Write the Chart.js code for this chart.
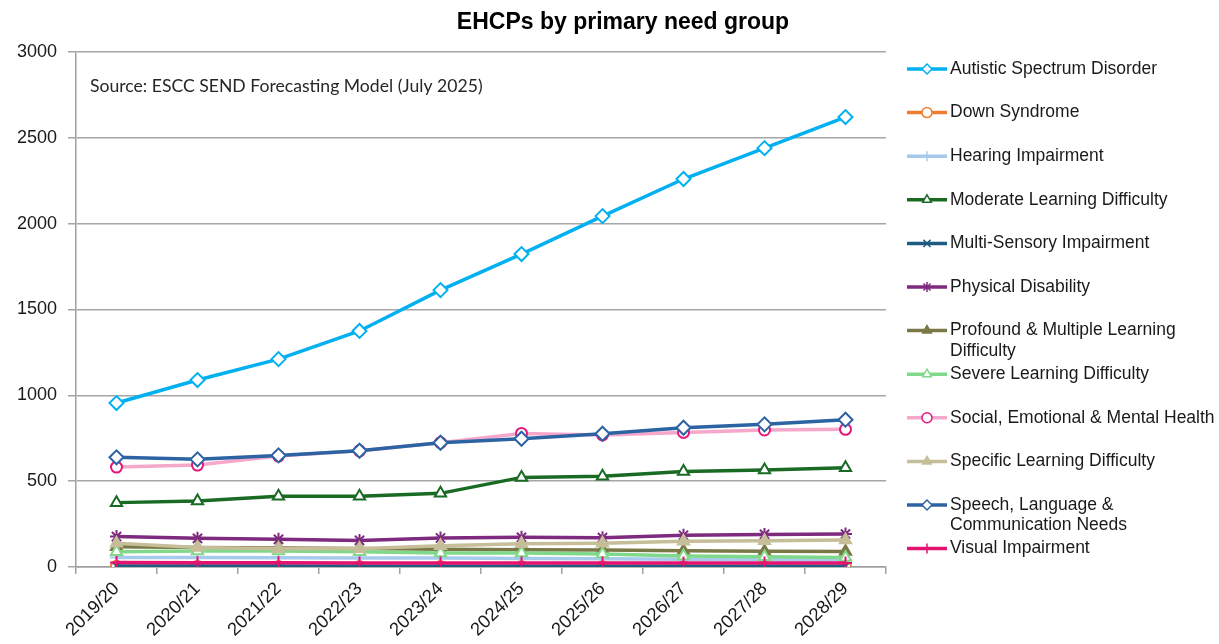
<!DOCTYPE html>
<html>
<head>
<meta charset="utf-8">
<title>EHCPs by primary need group</title>
<script src="https://cdn.jsdelivr.net/npm/chart.js@4"></script>
<style>
  html, body { margin: 0; padding: 0; background: #fff; }
  #wrap { width: 1219px; height: 644px; position: relative; }
</style>
</head>
<body>
<div id="wrap"><canvas id="ehcpChart"></canvas></div>
<script>
const chartTitle = "EHCPs by primary need group";
const sourceNote = "Source: ESCC SEND Forecasting Model (July 2025)";

const years = ["2019/20", "2020/21", "2021/22", "2022/23", "2023/24", "2024/25", "2025/26", "2026/27", "2027/28", "2028/29"];
const yTicks = [0, 500, 1000, 1500, 2000, 2500, 3000];

const autistic = [955, 1089, 1211, 1375, 1613, 1823, 2044, 2260, 2440, 2621];
const downSyndrome = [4, 4, 3, 3, 3, 3, 3, 3, 3, 3];
const hearing = [55, 55, 54, 53, 52, 50, 48, 45, 43, 41];
const moderateLD = [375, 384, 412, 412, 429, 522, 528, 557, 565, 578];
const multiSensory = [6, 6, 6, 5, 5, 5, 5, 5, 5, 5];
const physical = [177, 167, 161, 155, 169, 173, 171, 185, 190, 192];
const profoundLD = [118, 114, 110, 108, 104, 100, 99, 95, 92, 90];
const severeLD = [89, 93, 93, 89, 82, 82, 76, 64, 60, 56];
const semh = [582, 594, 646, 677, 724, 778, 769, 784, 798, 802];
const specificLD = [138, 113, 107, 107, 124, 136, 138, 150, 153, 157];
const slcn = [639, 627, 650, 677, 724, 747, 776, 811, 831, 858];
const visual = [26, 25, 25, 24, 24, 24, 23, 23, 23, 23];

// one entry per need group: legend text lines, values, look
const series = [
  { lines: ["Autistic Spectrum Disorder"], data: autistic, line: "#00B0F0", mark: "#00B0F0", fill: "#fff", style: "rectRot", r: 7 },
  { lines: ["Down Syndrome"], data: downSyndrome, line: "#ED7D31", mark: "#ED7D31", fill: "#fff", style: "circle", r: 5.5 },
  { lines: ["Hearing Impairment"], data: hearing, line: "#A6CAEC", mark: "#A6CAEC", fill: "#A6CAEC", style: "cross", r: 6.5 },
  { lines: ["Moderate Learning Difficulty"], data: moderateLD, line: "#196B24", mark: "#196B24", fill: "#fff", style: "triangle", r: 6.5 },
  { lines: ["Multi-Sensory Impairment"], data: multiSensory, line: "#1F5C82", mark: "#1F5C82", fill: "#1F5C82", style: "crossRot", r: 5.5 },
  { lines: ["Physical Disability"], data: physical, line: "#7E2A7E", mark: "#7E2A7E", fill: "#7E2A7E", style: "star", r: 6.5 },
  { lines: ["Profound & Multiple Learning", "Difficulty"], data: profoundLD, line: "#7A7846", mark: "#7A7846", fill: "#7A7846", style: "triangle", r: 6.5 },
  { lines: ["Severe Learning Difficulty"], data: severeLD, line: "#80D98A", mark: "#80D98A", fill: "#fff", style: "triangle", r: 6.5 },
  { lines: ["Social, Emotional & Mental Health"], data: semh, line: "#F5A8CB", mark: "#E5187A", fill: "#fff", style: "circle", r: 5.5 },
  { lines: ["Specific Learning Difficulty"], data: specificLD, line: "#C5BE98", mark: "#C5BE98", fill: "#C5BE98", style: "triangle", r: 6.5 },
  { lines: ["Speech, Language &", "Communication Needs"], data: slcn, line: "#2C63A3", mark: "#2C63A3", fill: "#fff", style: "rectRot", r: 7 },
  { lines: ["Visual Impairment"], data: visual, line: "#E3136F", mark: "#E3136F", fill: "#E3136F", style: "cross", r: 6.5 }
];

// title, source note and the legend on the right
const overlay = {
  id: "overlay",
  afterDraw(chart) {
    const ctx = chart.ctx;
    const area = chart.chartArea;
    ctx.save();
    ctx.fillStyle = "#000";
    ctx.font = 'bold 23px "Liberation Sans"';
    ctx.textAlign = "center";
    ctx.textBaseline = "middle";
    ctx.fillText(chartTitle, 623, 23);

    ctx.fillStyle = "#262626";
    ctx.font = '17.6px Lato';
    ctx.textAlign = "left";
    ctx.fillText(sourceNote, area.left + 14, 86);

    ctx.font = '17.5px "Liberation Sans"';
    series.forEach((s, i) => {
      const y = 69 + i * 43.6;
      ctx.strokeStyle = s.line;
      ctx.lineWidth = 3.5;
      ctx.beginPath();
      ctx.moveTo(907, y);
      ctx.lineTo(947, y);
      ctx.stroke();

      ctx.strokeStyle = s.mark;
      ctx.fillStyle = s.fill;
      ctx.lineWidth = 1.5;
      Chart.helpers.drawPoint(ctx, { pointStyle: s.style, radius: 5, rotation: 0, borderWidth: 1.5 }, 927, y);

      ctx.fillStyle = "#1a1a1a";
      s.lines.forEach((t, k) => ctx.fillText(t, 950, y + k * 20.5));
    });
    ctx.restore();
  }
};

new Chart(document.getElementById("ehcpChart"), {
  type: "line",
  data: {
    labels: years,
    datasets: series.map((s, i) => ({
      label: s.lines.join(" "),
      data: s.data,
      borderColor: s.line,
      borderWidth: 3.5,
      pointStyle: s.style,
      pointRadius: s.r,
      pointBorderColor: s.mark,
      pointBackgroundColor: s.fill,
      pointBorderWidth: 2,
      tension: 0,
      order: series.length - i
    }))
  },
  options: {
    responsive: true,
    maintainAspectRatio: false,
    animation: false,
    layout: { padding: { left: 0, top: 52, right: 333, bottom: 0 } },
    plugins: {
      legend: { display: false },
      title: { display: false },
      tooltip: { enabled: false }
    },
    scales: {
      x: {
        offset: true,
        grid: { offset: true, drawOnChartArea: false, tickLength: 7, color: "#a0a0a0", lineWidth: 1.5 },
        border: { color: "#a0a0a0", width: 1.5 },
        ticks: { minRotation: 45, maxRotation: 45, padding: 4, color: "#1a1a1a", font: { family: "Liberation Sans", size: 18.5 } },
        afterFit(scale) { scale.height = 77; }
      },
      y: {
        min: 0,
        max: 3000,
        afterBuildTicks(scale) { scale.ticks = yTicks.map(v => ({ value: v })); },
        grid: { color: "#a6a6a6", lineWidth: 1.5, tickLength: 8 },
        border: { color: "#a0a0a0", width: 1.5 },
        ticks: {
          padding: 11,
          color: "#1a1a1a",
          font: { family: "Liberation Sans", size: 18 },
          callback: v => String(v)
        },
        afterFit(scale) { scale.width = 76; }
      }
    }
  },
  plugins: [overlay]
});
</script>
</body>
</html>
